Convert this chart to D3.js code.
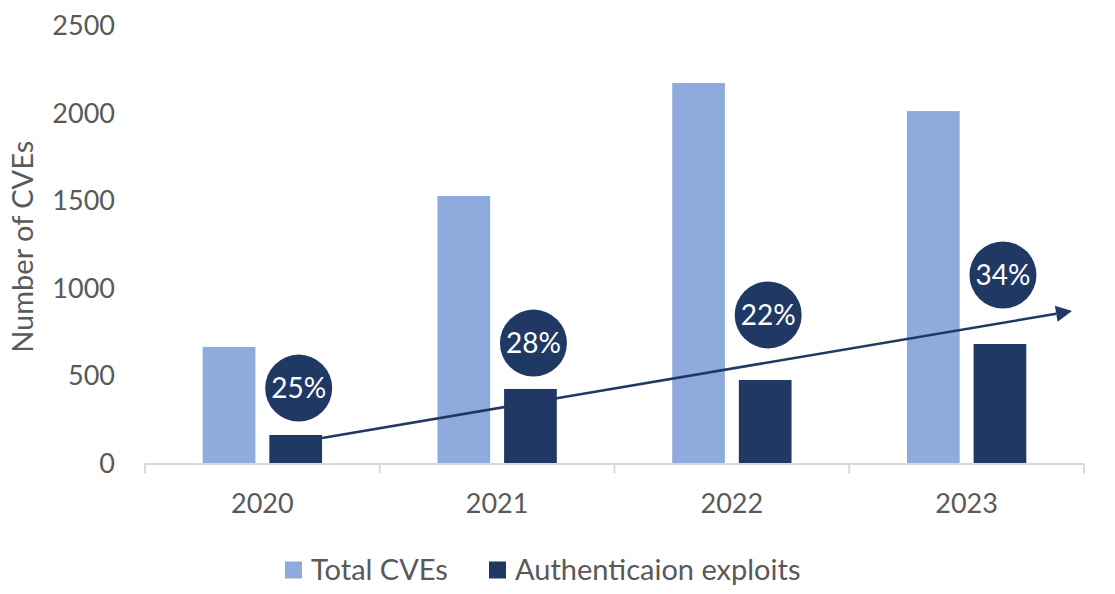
<!DOCTYPE html>
<html>
<head>
<meta charset="utf-8">
<script src="https://cdn.jsdelivr.net/npm/d3@7"></script>
<style>
  html, body { margin: 0; padding: 0; background: #fff; }
  svg { display: block; font-family: Lato, "Open Sans", sans-serif; }
</style>
</head>
<body>
<svg id="chart" width="1115" height="594"></svg>
<script>
const years = ["2020", "2021", "2022", "2023"];
const seriesNames = ["Total CVEs", "Authenticaion exploits"];
const totalCVEs = [666, 1529, 2174, 2014];
const authExploits = [163, 426, 477, 683];
const pctLabels = ["25%", "28%", "22%", "34%"];
const pctLabelAt = [431, 688, 849, 1077];   // label anchor in data units
const trendFrom = 146, trendTo = 871;        // trend arrow ends, data units
const yTicks = [0, 500, 1000, 1500, 2000, 2500];
const yTitle = "Number of CVEs";

const colors = { "Total CVEs": "#8FAADC", "Authenticaion exploits": "#203864" };
const textColor = "#595959";
const fontSize = 27;

const svg = d3.select("#chart");

const y = d3.scaleLinear().domain([0, 2500]).range([463.5, 26]);
const x0 = d3.scaleBand().domain(years).range([145, 1084]).padding(0);
const x1 = d3.scaleBand().domain(seriesNames).range([0, x0.bandwidth()])
  .paddingInner(0.209).paddingOuter(0.866);

// Y tick labels
svg.append("g").selectAll("text").data(yTicks).join("text")
  .attr("x", 115).attr("y", d => y(d)).attr("dy", "0.35em")
  .attr("text-anchor", "end").attr("fill", textColor)
  .attr("font-size", fontSize).text(d => d);

// Y title
svg.append("text")
  .attr("transform", `translate(23,${(y(0) + y(2500)) / 2 + 2}) rotate(-90)`)
  .attr("text-anchor", "middle").attr("dy", "0.35em")
  .attr("fill", textColor).attr("font-size", fontSize + 2).text(yTitle);

// Bars
const rows = years.map((yr, i) => ({ year: yr, vals: [
  { key: seriesNames[0], v: totalCVEs[i] },
  { key: seriesNames[1], v: authExploits[i] }] }));

const g = svg.append("g").selectAll("g").data(rows).join("g")
  .attr("transform", d => `translate(${x0(d.year)},0)`);
g.selectAll("rect").data(d => d.vals).join("rect")
  .attr("x", d => x1(d.key)).attr("width", x1.bandwidth())
  .attr("y", d => y(d.v)).attr("height", d => y(0) - y(d.v))
  .attr("fill", d => colors[d.key]);

// X axis line and ticks
const axisG = svg.append("g");
axisG.append("line").attr("x1", x0.range()[0]).attr("x2", x0.range()[1])
  .attr("y1", y(0) + 0.5).attr("y2", y(0) + 0.5)
  .attr("stroke", "#D9D9D9").attr("stroke-width", 2);
const bounds = years.map(d => x0(d)).concat([x0.range()[1]]);
axisG.selectAll("line.tk").data(bounds).join("line").attr("class", "tk")
  .attr("x1", d => d).attr("x2", d => d)
  .attr("y1", y(0)).attr("y2", y(0) + 10)
  .attr("stroke", "#D9D9D9").attr("stroke-width", 2);
axisG.selectAll("text").data(years).join("text")
  .attr("x", d => x0(d) + x0.bandwidth() / 2).attr("y", 504).attr("dy", "0.35em")
  .attr("text-anchor", "middle").attr("fill", textColor)
  .attr("font-size", fontSize).text(d => d);

// Trend arrow
const ax1 = x0(years[0]) + x1(seriesNames[1]) + x1.bandwidth();
const ay1 = y(trendFrom);
const ax2 = x0.range()[1] - 12;
const ay2 = y(trendTo);
const ang = Math.atan2(ay2 - ay1, ax2 - ax1);
const headLen = 16, headW = 8;
const bx = ax2 - headLen * Math.cos(ang), by = ay2 - headLen * Math.sin(ang);
svg.append("line").attr("x1", ax1).attr("y1", ay1).attr("x2", bx).attr("y2", by)
  .attr("stroke", "#203864").attr("stroke-width", 2.6);
svg.append("polygon")
  .attr("points", [
    [ax2, ay2],
    [bx + headW * Math.sin(ang), by - headW * Math.cos(ang)],
    [bx - headW * Math.sin(ang), by + headW * Math.cos(ang)]
  ].map(p => p.join(",")).join(" "))
  .attr("fill", "#203864");

// Percentage circles
const lab = svg.append("g").selectAll("g").data(years).join("g")
  .attr("transform", (d, i) =>
    `translate(${x0(d) + x1(seriesNames[1]) + x1.bandwidth() / 2 + 3},${y(pctLabelAt[i])})`);
lab.append("circle").attr("r", 33.5).attr("fill", "#203864");
lab.append("text").attr("text-anchor", "middle").attr("dy", "0.35em")
  .attr("fill", "#fff").attr("font-size", fontSize + 1).text((d, i) => pctLabels[i]);

// Legend
const legX = [285, 489];
const leg = svg.append("g").selectAll("g").data(seriesNames).join("g")
  .attr("transform", (d, i) => `translate(${legX[i]},570)`);
leg.append("rect").attr("x", 0).attr("y", -8.5).attr("width", 17).attr("height", 17)
  .attr("fill", d => colors[d]);
leg.append("text").attr("x", 26).attr("dy", "0.35em").attr("fill", textColor)
  .attr("font-size", 29).text(d => d);
</script>
</body>
</html>
